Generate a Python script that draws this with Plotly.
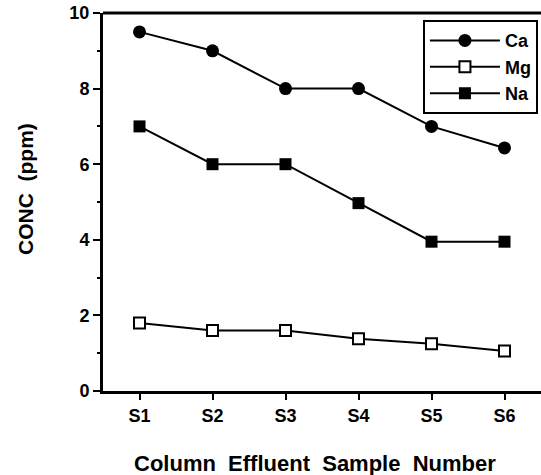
import plotly.graph_objects as go

samples = ["S1", "S2", "S3", "S4", "S5", "S6"]
sample_pos = [1, 2, 3, 4, 5, 6]
ca = [9.5, 9.0, 8.0, 8.0, 7.0, 6.43]
mg = [1.8, 1.6, 1.6, 1.38, 1.25, 1.06]
na = [7.0, 6.0, 6.0, 4.97, 3.95, 3.95]

FONT = "Liberation Sans"

fig = go.Figure()
fig.add_trace(go.Scatter(x=sample_pos, y=ca, name="Ca", mode="lines+markers",
                         line=dict(color="black", width=2),
                         marker=dict(symbol="circle", size=13, color="black")))
fig.add_trace(go.Scatter(x=sample_pos, y=mg, name="Mg", mode="lines+markers",
                         line=dict(color="black", width=2),
                         marker=dict(symbol="square", size=11, color="white",
                                     line=dict(color="black", width=2))))
fig.add_trace(go.Scatter(x=sample_pos, y=na, name="Na", mode="lines+markers",
                         line=dict(color="black", width=2),
                         marker=dict(symbol="square", size=12, color="black")))

fig.update_layout(
    width=541, height=475,
    margin=dict(l=103, r=0, t=13, b=84),
    paper_bgcolor="white", plot_bgcolor="white",
    font=dict(family=FONT, color="black", size=14),
    showlegend=True,
    legend=dict(x=0.993, xanchor="right", y=0.981, yanchor="top",
                bordercolor="black", borderwidth=2, bgcolor="white",
                font=dict(family=FONT, size=18, color="black", weight="bold"),
                tracegroupgap=0, itemwidth=70),
    xaxis=dict(range=[0.5, 6.5], tickmode="array", tickvals=sample_pos,
               ticktext=samples, showline=True, linecolor="black", linewidth=3,
               ticks="outside", ticklen=6, tickwidth=2,
               tickcolor="black", showgrid=False, zeroline=False,
               tickfont=dict(family=FONT, size=18, weight="bold")),
    yaxis=dict(range=[0, 10], tickvals=[0, 2, 4, 6, 8, 10], showline=True,
               linecolor="black", linewidth=3, ticks="outside", ticklen=7,
               tickwidth=2, tickcolor="black", showgrid=False, zeroline=False,
               minor=dict(tickvals=[1, 3, 5, 7, 9], ticks="outside", ticklen=3,
                          tickwidth=2, tickcolor="black"),
               tickfont=dict(family=FONT, size=18, weight="bold")),
    shapes=[dict(type="line", xref="paper", yref="paper", x0=0, x1=1, y0=1, y1=1,
                 line=dict(color="black", width=3))],
    annotations=[
        dict(text="Column  Effluent  Sample  Number", xref="paper", yref="paper",
             x=(315 - 103) / 438, y=0, yshift=-72, xanchor="center", yanchor="middle",
             showarrow=False, font=dict(family=FONT, size=22, weight="bold")),
        dict(text="CONC  (ppm)", xref="paper", yref="paper", textangle=-90,
             x=0, xshift=-78, y=(391 - 189) / 378, xanchor="center", yanchor="middle",
             showarrow=False, font=dict(family=FONT, size=21, weight="bold")),
    ],
)

fig.write_html("out.html", config={"displayModeBar": False},
               default_width="541px", default_height="475px",
               include_plotlyjs=True, full_html=True)
